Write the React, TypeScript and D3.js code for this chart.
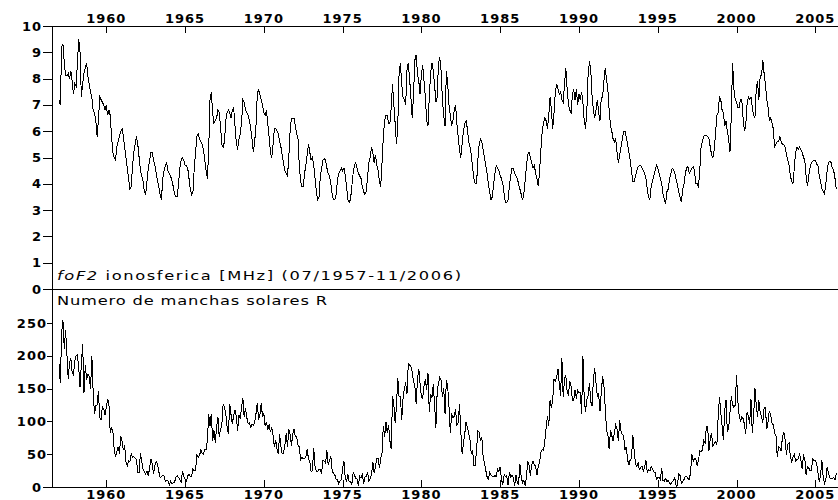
import * as d3 from "d3";

// monthly series, 07/1957 .. 11/2006
const startYear = 1957;
const startMonth = 7;

// foF2 monthly medians [MHz]
const fof2 = [
  7.2, 7.0, 9.2, 9.3, 8.6, 8.1, // 1957 Jul-Dec
  8.1, 8.2, 8.0, 8.3, 7.9, 7.4, 7.8, 7.7, 8.6, 9.5, 9.0, 7.3, // 1958
  7.8, 8.2, 8.4, 8.6, 8.1, 7.8, 7.5, 7.3, 6.8, 6.7, 6.4, 5.8, // 1959
  6.4, 7.3, 7.2, 7.1, 7.0, 6.8, 7.0, 6.6, 6.8, 6.6, 5.8, 5.2, // 1960
  5.0, 4.9, 5.4, 5.6, 5.8, 6.0, 6.1, 5.8, 5.4, 5.0, 4.6, 4.2, // 1961
  3.8, 3.9, 4.7, 5.2, 5.5, 5.8, 5.5, 5.0, 4.5, 4.3, 4.1, 3.7, // 1962
  3.6, 4.1, 4.6, 4.9, 5.2, 5.2, 4.9, 4.7, 4.4, 4.1, 3.9, 3.6, // 1963
  3.4, 4.2, 4.5, 4.7, 4.8, 4.5, 4.4, 4.3, 4.1, 3.9, 3.6, 3.5, // 1964
  3.5, 4.0, 4.6, 4.9, 5.0, 4.9, 4.7, 4.7, 4.6, 4.2, 3.8, 3.6, // 1965
  3.7, 4.6, 5.2, 5.8, 5.9, 5.7, 5.6, 5.5, 5.3, 4.9, 4.5, 4.2, // 1966
  5.3, 7.2, 7.5, 6.7, 6.3, 6.4, 6.5, 6.8, 6.7, 6.2, 5.5, 5.4, // 1967
  5.6, 6.4, 6.7, 6.8, 6.7, 6.5, 6.8, 6.9, 6.2, 5.6, 5.3, 5.7, // 1968
  5.9, 6.3, 7.2, 7.1, 6.8, 6.7, 6.6, 6.4, 6.1, 5.7, 5.2, 5.6, // 1969
  6.2, 7.4, 7.6, 7.4, 7.2, 7.0, 6.7, 6.6, 6.8, 6.3, 5.8, 5.2, // 1970
  5.0, 5.5, 6.1, 6.1, 6.0, 5.9, 5.6, 5.4, 5.1, 4.8, 4.5, 4.4, // 1971
  4.3, 5.0, 6.0, 6.5, 6.5, 6.5, 6.2, 5.9, 5.7, 4.7, 4.1, 3.9, // 1972
  3.9, 4.4, 4.7, 5.1, 5.5, 5.2, 4.9, 5.0, 4.7, 4.2, 3.7, 3.4, // 1973
  3.5, 4.3, 4.6, 4.9, 4.95, 4.9, 4.6, 4.4, 4.3, 4.0, 3.6, 3.4, // 1974
  3.4, 3.6, 4.1, 4.4, 4.5, 4.6, 4.5, 4.6, 4.3, 3.9, 3.4, 3.3, // 1975
  3.4, 3.9, 4.4, 4.7, 4.8, 4.6, 4.4, 4.3, 4.2, 3.9, 3.7, 3.6, // 1976
  3.7, 4.3, 4.8, 5.0, 5.4, 5.2, 4.8, 5.1, 4.7, 4.5, 4.1, 3.9, // 1977
  4.8, 5.8, 6.4, 6.6, 6.6, 6.3, 6.3, 6.9, 7.8, 7.0, 6.3, 5.5, // 1978
  6.2, 8.2, 8.6, 7.8, 7.3, 7.2, 7.0, 8.3, 8.6, 8.0, 7.3, 6.5, // 1979
  7.4, 8.7, 8.9, 8.2, 7.9, 7.4, 8.2, 8.5, 7.9, 7.3, 6.4, 6.2, // 1980
  7.3, 8.2, 8.6, 8.3, 7.8, 7.1, 7.3, 8.6, 8.8, 8.3, 7.2, 6.6, // 1981
  6.2, 8.3, 7.8, 7.0, 6.6, 6.2, 6.4, 6.8, 7.0, 6.3, 5.8, 5.3, // 1982
  5.0, 5.5, 6.0, 6.3, 6.4, 6.1, 5.6, 5.4, 5.1, 4.6, 4.2, 4.0, // 1983
  4.0, 4.9, 5.5, 5.7, 5.6, 5.3, 5.0, 4.7, 4.4, 4.0, 3.7, 3.4, // 1984
  3.5, 4.0, 4.4, 4.7, 4.6, 4.5, 4.3, 4.2, 4.0, 3.6, 3.3, 3.3, // 1985
  3.4, 3.9, 4.3, 4.6, 4.6, 4.4, 4.3, 4.2, 4.0, 3.8, 3.6, 3.4, // 1986
  3.6, 4.1, 4.7, 5.1, 5.2, 5.0, 4.8, 4.6, 4.7, 4.4, 4.2, 3.9, // 1987
  4.5, 5.3, 6.0, 6.3, 6.5, 6.4, 6.1, 6.6, 7.3, 6.8, 6.1, 6.7, // 1988
  7.5, 7.8, 7.6, 7.4, 7.5, 7.2, 7.1, 7.8, 8.4, 7.6, 7.0, 6.8, // 1989
  6.7, 7.4, 7.6, 7.2, 7.6, 7.0, 7.4, 7.2, 7.5, 7.1, 6.4, 6.1, // 1990
  6.8, 8.2, 8.65, 8.3, 7.3, 6.8, 6.5, 6.8, 7.2, 6.7, 6.4, 7.3, // 1991
  7.3, 7.9, 8.4, 7.95, 7.6, 6.8, 6.2, 6.0, 5.7, 5.6, 5.7, 5.2, // 1992
  4.8, 5.1, 5.4, 5.7, 6.0, 6.0, 5.8, 5.5, 5.2, 4.9, 4.5, 4.1, // 1993
  4.1, 4.3, 4.5, 4.65, 4.7, 4.7, 4.6, 4.5, 4.4, 4.2, 3.8, 3.5, // 1994
  3.4, 3.9, 4.1, 4.3, 4.5, 4.7, 4.6, 4.4, 4.2, 4.0, 3.6, 3.4, // 1995
  3.25, 3.7, 3.8, 4.2, 4.4, 4.6, 4.55, 4.4, 4.15, 3.95, 3.7, 3.5, // 1996
  3.3, 3.8, 4.0, 4.4, 4.6, 4.65, 4.4, 4.5, 4.6, 4.65, 4.5, 4.0, // 1997
  4.0, 3.9, 4.5, 5.4, 5.6, 5.8, 5.85, 5.85, 5.8, 5.7, 5.4, 5.1, // 1998
  5.0, 5.3, 5.9, 6.6, 6.7, 7.3, 7.2, 6.8, 6.7, 6.2, 6.4, 6.0, // 1999
  5.7, 5.2, 6.6, 8.6, 7.6, 7.2, 7.1, 6.9, 6.9, 7.2, 7.2, 6.5, // 2000
  6.0, 6.2, 7.0, 7.3, 7.2, 7.3, 6.9, 6.6, 6.5, 7.6, 7.9, 7.2, // 2001
  8.1, 8.1, 8.7, 8.2, 7.8, 7.2, 6.9, 6.4, 6.5, 6.3, 6.1, 5.4, // 2002
  5.5, 5.6, 5.6, 5.8, 5.6, 5.5, 5.5, 5.4, 5.1, 4.9, 4.7, 4.3, // 2003
  4.1, 4.0, 4.6, 5.2, 5.4, 5.3, 5.4, 5.3, 5.2, 5.0, 4.9, 4.3, // 2004
  3.9, 4.3, 4.6, 4.8, 4.85, 4.9, 4.9, 4.75, 4.7, 4.3, 4.1, 3.8, // 2005
  3.7, 3.6, 4.0, 4.5, 4.8, 4.85, 4.8, 4.6, 4.5, 4.2, 3.8, // 2006 Jan-Nov
];

// monthly sunspot number R
const sunspots = [
  187.2, 158.0, 235.8, 253.8, 210.9, 239.4, // 1957 Jul-Dec
  202.5, 164.9, 190.7, 196.0, 175.3, 171.5, 191.4, 200.2, 201.2, 181.5, 152.3, 187.6, // 1958
  217.4, 143.1, 185.7, 163.3, 172.0, 168.7, 149.6, 199.6, 145.2, 111.4, 124.0, 125.0, // 1959
  146.3, 106.0, 102.2, 122.0, 119.6, 110.2, 121.7, 134.1, 127.2, 82.8, 89.6, 85.6, // 1960
  57.9, 46.1, 53.0, 61.4, 51.0, 77.4, 70.2, 55.9, 63.6, 37.7, 32.6, 40.0, // 1961
  38.7, 50.3, 45.6, 46.4, 43.7, 42.0, 21.8, 21.8, 51.3, 39.5, 26.9, 23.2, // 1962
  19.8, 24.4, 17.1, 29.3, 43.0, 35.9, 19.6, 33.2, 38.8, 35.3, 23.4, 14.9, // 1963
  15.3, 17.7, 16.5, 8.6, 9.5, 9.1, 3.1, 9.3, 4.7, 6.1, 7.4, 15.1, // 1964
  17.5, 14.2, 11.7, 6.8, 24.1, 15.9, 11.9, 8.9, 16.8, 20.1, 15.8, 17.0, // 1965
  28.2, 24.4, 25.3, 48.7, 45.3, 47.7, 56.7, 51.2, 50.2, 57.2, 57.2, 70.4, // 1966
  110.9, 93.6, 111.8, 69.5, 86.5, 67.3, 91.5, 107.2, 76.8, 88.2, 94.3, 126.4, // 1967
  121.8, 111.9, 92.2, 81.2, 127.2, 110.3, 96.1, 109.3, 117.2, 107.7, 86.0, 109.8, // 1968
  104.4, 120.5, 135.8, 106.8, 120.0, 106.0, 96.8, 98.0, 91.3, 95.7, 93.5, 97.9, // 1969
  111.5, 127.8, 102.9, 109.5, 127.5, 106.8, 112.5, 93.0, 99.5, 86.6, 95.2, 83.5, // 1970
  91.3, 79.0, 60.7, 71.8, 57.5, 49.8, 81.0, 61.4, 50.2, 51.7, 63.2, 82.2, // 1971
  61.5, 88.4, 80.1, 63.2, 80.5, 88.0, 76.5, 76.8, 64.0, 61.3, 41.6, 45.3, // 1972
  43.4, 42.9, 46.0, 57.7, 42.4, 39.5, 23.1, 25.6, 59.3, 30.7, 23.9, 23.3, // 1973
  27.6, 26.0, 21.3, 40.3, 39.5, 36.6, 55.8, 33.6, 40.2, 47.1, 25.0, 20.5, // 1974
  18.9, 11.5, 11.5, 5.1, 9.0, 11.4, 28.2, 39.7, 13.9, 9.1, 19.4, 7.8, // 1975
  8.1, 4.3, 21.9, 18.8, 12.4, 12.2, 1.9, 16.4, 13.5, 20.6, 5.2, 15.3, // 1976
  16.4, 23.1, 8.7, 12.9, 18.6, 38.5, 21.4, 30.1, 44.0, 43.8, 29.1, 43.2, // 1977
  51.9, 93.6, 76.5, 99.7, 82.7, 95.1, 70.4, 58.1, 138.2, 125.1, 97.9, 122.7, // 1978
  166.6, 137.5, 138.0, 101.5, 134.4, 149.5, 159.4, 142.2, 188.4, 186.2, 183.3, 176.3, // 1979
  159.6, 155.0, 126.2, 164.1, 179.9, 157.3, 136.3, 135.4, 155.0, 164.7, 147.9, 174.4, // 1980
  114.0, 141.3, 135.5, 156.4, 127.5, 90.0, 143.8, 158.7, 167.3, 162.4, 137.5, 150.1, // 1981
  111.2, 163.6, 153.8, 122.0, 82.2, 110.4, 106.1, 107.6, 118.8, 94.7, 98.1, 127.0, // 1982
  84.3, 51.0, 66.5, 80.7, 99.2, 91.1, 82.2, 71.8, 50.3, 55.8, 33.3, 33.4, // 1983
  57.0, 85.1, 83.5, 69.7, 76.4, 46.1, 37.4, 25.5, 15.7, 12.0, 22.8, 18.7, // 1984
  16.5, 15.9, 17.2, 16.2, 27.5, 24.2, 30.7, 11.1, 3.9, 18.6, 16.2, 17.3, // 1985
  2.5, 23.2, 15.1, 18.5, 13.7, 1.1, 18.1, 7.4, 3.8, 35.4, 15.2, 6.8, // 1986
  10.4, 2.4, 14.7, 39.6, 33.0, 17.4, 33.9, 38.8, 33.3, 31.6, 18.2, 31.3, // 1987
  37.8, 52.4, 56.8, 55.6, 70.4, 90.7, 108.0, 93.4, 132.6, 120.4, 132.7, 165.0, // 1988
  161.5, 166.7, 180.0, 157.5, 139.2, 196.2, 136.6, 166.1, 169.8, 144.9, 140.9, 160.8, // 1989
  154.0, 132.6, 132.4, 147.9, 134.8, 147.6, 143.0, 144.1, 112.0, 200.0, 134.5, 114.6, // 1990
  133.1, 140.0, 158.5, 129.8, 123.8, 165.4, 181.0, 158.1, 138.2, 141.6, 115.2, 144.1, // 1991
  168.7, 155.6, 121.4, 86.1, 79.9, 57.4, 87.3, 78.2, 70.3, 83.4, 94.5, 88.7, // 1992
  70.4, 101.4, 84.9, 80.1, 78.3, 56.8, 61.5, 41.8, 33.4, 41.5, 43.9, 79.3, // 1993
  55.9, 36.2, 31.0, 37.3, 26.4, 29.6, 31.9, 23.5, 30.8, 40.8, 21.8, 26.3, // 1994
  24.3, 31.0, 28.0, 23.3, 21.7, 12.0, 14.3, 14.2, 10.7, 28.2, 10.0, 9.2, // 1995
  13.1, 8.5, 10.2, 5.8, 4.2, 8.4, 9.8, 14.3, 1.3, 2.3, 20.0, 17.2, // 1996
  5.8, 8.0, 11.3, 16.2, 16.5, 12.6, 11.3, 22.2, 50.2, 38.8, 43.9, 43.1, // 1997
  31.9, 40.3, 54.8, 53.4, 56.3, 70.7, 66.6, 92.2, 92.9, 55.5, 74.0, 81.9, // 1998
  62.0, 66.3, 68.8, 63.7, 106.4, 137.7, 113.5, 93.7, 71.5, 116.7, 133.2, 84.6, // 1999
  90.1, 112.9, 138.5, 125.5, 121.6, 124.9, 170.1, 130.5, 109.7, 99.4, 106.8, 104.4, // 2000
  95.6, 80.6, 113.5, 107.7, 96.6, 134.0, 81.8, 106.4, 150.7, 125.5, 106.5, 132.2, // 2001
  114.1, 107.4, 98.4, 120.7, 120.8, 88.3, 99.6, 116.4, 109.6, 97.5, 95.0, 81.6, // 2002
  79.5, 46.2, 61.5, 60.0, 55.2, 77.4, 83.3, 72.7, 48.7, 65.5, 67.3, 46.5, // 2003
  37.3, 45.8, 49.1, 39.3, 41.5, 43.2, 51.1, 40.9, 27.7, 48.0, 43.5, 17.9, // 2004
  31.3, 29.2, 24.5, 24.4, 42.6, 39.6, 39.9, 36.4, 22.1, 8.5, 18.0, 41.2, // 2005
  15.3, 4.9, 10.6, 30.2, 22.3, 13.9, 12.2, 12.9, 14.4, 10.5, 21.4, // 2006 Jan-Nov
];

const yearTicks = [1960, 1965, 1970, 1975, 1980, 1985, 1990, 1995, 2000, 2005];
const fof2Ticks = [0, 1, 2, 3, 4, 5, 6, 7, 8, 9, 10];
const sunTicks = [0, 50, 100, 150, 200, 250];

const topTitle = "ionosferica [MHz] (07/1957-11/2006)";
const bottomTitle = "Numero de manchas solares R";

const W = 838;
const H = 500;
const left = 52;
const topY = 26;
const midY = 289;
const bottomY = 487;

const tickFont = "'DejaVu Sans', Verdana, sans-serif";
const titleStretch = 1.25;

const px = (v: number) => Math.round(v) + 0.5;

const App = () => {
  // year labels sit at mid-year
  const x = d3.scaleLinear().domain([1957.054, 2006.94]).range([left, W]);
  const yTop = d3.scaleLinear().domain([0, 10]).range([midY, topY]);
  const yBot = d3.scaleLinear().domain([0, 250]).range([bottomY, 323]);

  const t = (i: number) => startYear + (startMonth - 1) / 12 + i / 12;

  const topLine = d3
    .line<number>()
    .x((d, i) => x(t(i)))
    .y((d) => yTop(d));
  const botLine = d3
    .line<number>()
    .x((d, i) => x(t(i)))
    .y((d) => yBot(d));

  return (
    <svg
      width={W}
      height={H}
      style={{ position: "absolute", left: 0, top: 0, display: "block", background: "#fff" }}
    >
      <rect width={W} height={H} fill="#fff" />

      <g stroke="#000" strokeWidth={1} shapeRendering="crispEdges" fill="none">
        {/* frame lines */}
        <line x1={43} x2={W} y1={px(topY)} y2={px(topY)} />
        <line x1={43} x2={W} y1={px(midY)} y2={px(midY)} />
        <line x1={43} x2={W} y1={px(bottomY)} y2={px(bottomY)} />
        <line x1={px(left)} x2={px(left)} y1={topY} y2={bottomY} />

        {/* year ticks */}
        {yearTicks.map((yr) => (
          <g key={yr}>
            <line x1={px(x(yr + 0.5))} x2={px(x(yr + 0.5))} y1={topY} y2={topY + 7} />
            <line x1={px(x(yr + 0.5))} x2={px(x(yr + 0.5))} y1={bottomY} y2={bottomY - 7} />
          </g>
        ))}

        {/* value ticks */}
        {fof2Ticks.map((v) => (
          <line key={v} x1={43} x2={left} y1={px(yTop(v))} y2={px(yTop(v))} />
        ))}
        {sunTicks.slice(1).map((v) => (
          <line key={v} x1={47} x2={left} y1={px(yBot(v))} y2={px(yBot(v))} />
        ))}

        <path d={topLine(fof2) ?? ""} />
        <path d={botLine(sunspots) ?? ""} />
      </g>

      <g fontFamily={tickFont} fontWeight="bold" fontSize={13} fill="#000">
        {yearTicks.map((yr) => (
          <g key={yr}>
            <text x={x(yr + 0.5)} y={22.5} textAnchor="middle" letterSpacing={1}>
              {yr}
            </text>
            <text x={x(yr + 0.5)} y={498.5} textAnchor="middle" letterSpacing={1}>
              {yr}
            </text>
          </g>
        ))}
        {fof2Ticks.map((v) => (
          <text key={v} x={42} y={yTop(v) + 4.5} textAnchor="end" letterSpacing={1}>
            {v}
          </text>
        ))}
        {sunTicks.map((v) => (
          <text key={v} x={v === 0 ? 42 : 47} y={yBot(v) + 4.5} textAnchor="end" letterSpacing={1}>
            {v}
          </text>
        ))}
      </g>

      <g fontFamily={tickFont} fontSize={13} fill="#000">
        <text
          transform={`translate(57,280) scale(${titleStretch},1)`}
          textLength={404 / titleStretch}
          lengthAdjust="spacing"
        >
          <tspan fontStyle="italic">foF2</tspan> {topTitle}
        </text>
        <text
          transform={`translate(57,304.5) scale(${titleStretch},1)`}
          textLength={270 / titleStretch}
          lengthAdjust="spacing"
        >
          {bottomTitle}
        </text>
      </g>
    </svg>
  );
};

export default App;
